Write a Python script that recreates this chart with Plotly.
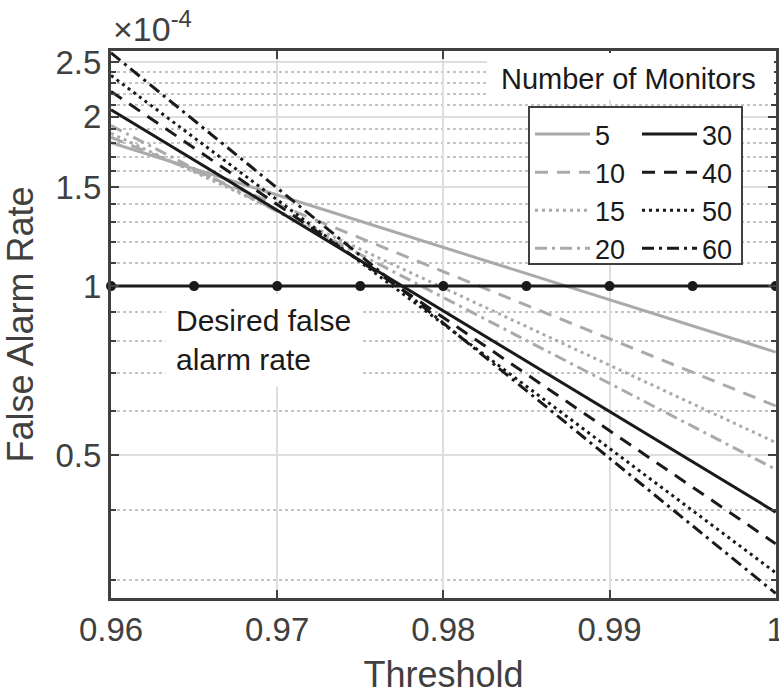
import plotly.graph_objects as go

# ---- data ----
thresholds = [0.96, 1.0]
monitors = ["5", "10", "15", "20", "30", "40", "50", "60"]
far_start = [1.80e-4, 1.84e-4, 1.87e-4, 1.93e-4, 2.06e-4, 2.22e-4, 2.37e-4, 2.60e-4]
far_end = [0.763e-4, 0.612e-4, 0.527e-4, 0.472e-4, 0.396e-4, 0.348e-4, 0.309e-4, 0.284e-4]
desired_x = [0.96, 0.965, 0.97, 0.975, 0.98, 0.985, 0.99, 0.995, 1.0]
desired_far = 1e-4
x_ticks = [0.96, 0.97, 0.98, 0.99, 1.0]
x_ticktext = ["0.96", "0.97", "0.98", "0.99", "1"]
y_ticks = [0.5e-4, 1e-4, 1.5e-4, 2e-4, 2.5e-4]
y_ticktext = ["0.5", "1", "1.5", "2", "2.5"]
y_minor = [v * 1e-4 for v in [0.3, 0.4, 0.6, 0.7, 0.8, 0.9, 1.1, 1.2, 1.3, 1.4,
                               1.6, 1.7, 1.8, 1.9, 2.1, 2.2, 2.3, 2.4]]

GRAY = "#aaaaaa"
BLACK = "#1a1a1a"
TXT = "#404040"
FONT = "Liberation Sans, Arial, Helvetica, sans-serif"

styles = {
    "5": (GRAY, "solid"),
    "10": (GRAY, "13px,9px"),
    "15": (GRAY, "3px,4px"),
    "20": (GRAY, "12px,5px,3px,5px"),
    "30": (BLACK, "solid"),
    "40": (BLACK, "13px,9px"),
    "50": (BLACK, "3px,4px"),
    "60": (BLACK, "12px,5px,3px,5px"),
}

fig = go.Figure()

for i, m in enumerate(monitors):
    col, dash = styles[m]
    fig.add_trace(go.Scatter(
        x=thresholds, y=[far_start[i], far_end[i]], mode="lines", name=m,
        line=dict(color=col, width=3, dash=dash),
        legend="legend" if i < 4 else "legend2",
    ))

fig.add_trace(go.Scatter(
    x=desired_x, y=[desired_far] * len(desired_x), mode="lines+markers",
    line=dict(color=BLACK, width=3), marker=dict(color=BLACK, size=10),
    showlegend=False, cliponaxis=False,
))

PL, PR, PT, PB = 111, 776, 51, 598
W, H = 779, 697

def px(xp):
    return (xp - PL) / (PR - PL)

def py(yp):
    return (PB - yp) / (PB - PT)

legend_font = dict(family=FONT, size=27, color=BLACK)
fig.update_layout(
    width=W, height=H,
    margin=dict(l=PL, r=W - PR, t=PT, b=H - PB, autoexpand=False),
    plot_bgcolor="white", paper_bgcolor="white",
    font=dict(family=FONT, color=TXT),
    legend=dict(x=px(530), y=py(110), xanchor="left", yanchor="top",
                bgcolor="rgba(0,0,0,0)", borderwidth=0, font=legend_font,
                itemwidth=55, tracegroupgap=0),
    legend2=dict(x=px(637), y=py(110), xanchor="left", yanchor="top",
                 bgcolor="rgba(0,0,0,0)", borderwidth=0, font=legend_font,
                 itemwidth=55, tracegroupgap=0),
    xaxis=dict(
        range=[0.96, 1.00002], tickvals=x_ticks, ticktext=x_ticktext,
        tickfont=dict(size=33, color=TXT), ticks="inside", ticklen=8, tickwidth=2,
        tickcolor=TXT, showline=True, linecolor=TXT, linewidth=3, mirror="allticks",
        showgrid=True, gridcolor="#dedede", gridwidth=2, zeroline=False,
        ticklabeloverflow="allow", automargin=False,
        title=dict(text="Threshold", font=dict(size=36, color=TXT), standoff=16),
    ),
    yaxis=dict(
        type="log", range=[-4.555, -3.5817], tickvals=y_ticks, ticktext=y_ticktext,
        tickfont=dict(size=33, color=TXT), ticks="inside", ticklen=8, tickwidth=2,
        tickcolor=TXT, showline=True, linecolor=TXT, linewidth=3, mirror="allticks",
        showgrid=True, gridcolor="#dedede", gridwidth=2, zeroline=False,
        automargin=False,
        minor=dict(tickmode="array", tickvals=y_minor, ticks="inside", ticklen=5,
                   tickcolor=TXT, tickwidth=2, showgrid=True, gridcolor="#c4c4c4",
                   gridwidth=2, griddash="dot"),
        title=dict(text="False Alarm Rate", font=dict(size=36, color=TXT), standoff=14),
    ),
    shapes=[
        dict(type="rect", xref="paper", yref="paper", x0=px(487), x1=px(774),
             y0=py(100), y1=py(53), fillcolor="white", line=dict(width=0), layer="above"),
        dict(type="rect", xref="paper", yref="paper", x0=px(529), x1=px(742),
             y0=py(264), y1=py(107), fillcolor="white",
             line=dict(color=TXT, width=2), layer="above"),
    ],
    annotations=[
        dict(text="Number of Monitors", xref="paper", yref="paper", x=px(628), y=py(79),
             xanchor="center", yanchor="middle", showarrow=False,
             font=dict(size=29, color=BLACK, family=FONT)),
        dict(text="Desired false<br>alarm rate", xref="paper", yref="paper",
             x=px(165), y=py(340), xanchor="left", yanchor="middle", align="left",
             showarrow=False, bgcolor="white", borderpad=10,
             font=dict(size=30, color=BLACK, family=FONT)),
        dict(text="×10<sup>-4</sup>", xref="paper", yref="paper", x=px(111), y=py(26),
             xanchor="left", yanchor="middle", showarrow=False,
             font=dict(size=34, color=TXT, family=FONT)),
    ],
)

fig.write_html("out.html")
